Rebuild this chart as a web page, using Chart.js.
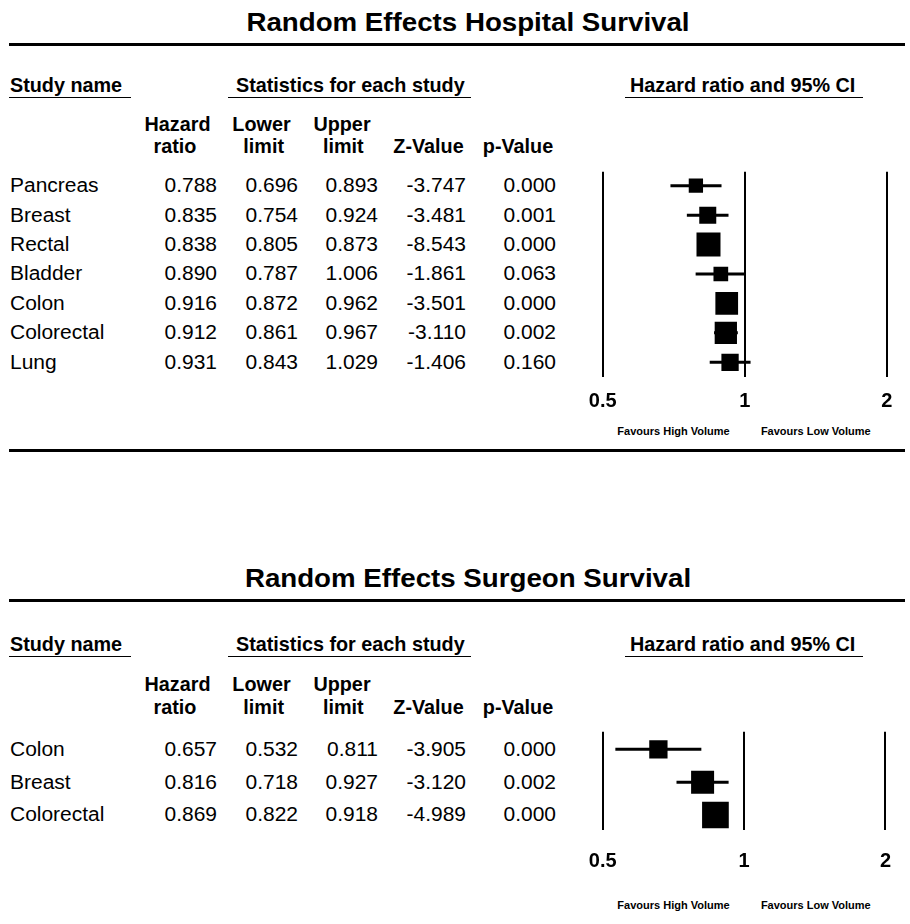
<!DOCTYPE html>
<html>
<head>
<meta charset="utf-8">
<script src="https://cdn.jsdelivr.net/npm/chart.js@4.4.1/dist/chart.umd.min.js"></script>
<style>
  html, body { margin: 0; padding: 0; background: #fff; }
  body { width: 910px; height: 924px; position: relative; overflow: hidden;
         font-family: "Liberation Sans", Arial, sans-serif; color: #000; }
  .t { position: absolute; white-space: nowrap; }
  .ln { position: absolute; background: #000; }
  .cw { position: absolute; }
</style>
</head>
<body>
<script>
// ---------------- data ----------------
const hospitalTitle = "Random Effects Hospital Survival";
const hospitalStudies = ["Pancreas", "Breast", "Rectal", "Bladder", "Colon", "Colorectal", "Lung"];
const hospitalHR    = [0.788, 0.835, 0.838, 0.890, 0.916, 0.912, 0.931];
const hospitalLower = [0.696, 0.754, 0.805, 0.787, 0.872, 0.861, 0.843];
const hospitalUpper = [0.893, 0.924, 0.873, 1.006, 0.962, 0.967, 1.029];
const hospitalZ     = ["-3.747", "-3.481", "-8.543", "-1.861", "-3.501", "-3.110", "-1.406"];
const hospitalP     = ["0.000", "0.001", "0.000", "0.063", "0.000", "0.002", "0.160"];

const surgeonTitle = "Random Effects Surgeon Survival";
const surgeonStudies = ["Colon", "Breast", "Colorectal"];
const surgeonHR    = [0.657, 0.816, 0.869];
const surgeonLower = [0.532, 0.718, 0.822];
const surgeonUpper = [0.811, 0.927, 0.918];
const surgeonZ     = ["-3.905", "-3.120", "-4.989"];
const surgeonP     = ["0.000", "0.002", "0.000"];

const tickValues = [0.5, 1, 2];
const sectionHeaders = ["Study name", "Statistics for each study", "Hazard ratio and 95% CI"];
const colHeadLine1 = ["Hazard", "Lower", "Upper"];
const colHeadLine2 = ["ratio", "limit", "limit", "Z-Value", "p-Value"];
const favourLabels = ["Favours High Volume", "Favours Low Volume"];

// ---------------- styles (box side in px, reflects relative study weight) ----------------
const hospitalBoxSide = [14.3, 17, 24, 14.7, 22.7, 22.3, 17.3];
const surgeonBoxSide  = [18.3, 23, 26.7];

const FONT = '"Liberation Sans", Arial, sans-serif';

function text(str, x, baseline, size, bold, align, sx) {
  const d = document.createElement('div');
  d.className = 't';
  d.textContent = str;
  d.style.fontSize = size + 'px';
  d.style.lineHeight = size + 'px';
  d.style.fontWeight = bold ? 'bold' : 'normal';
  d.style.top = (baseline - 0.8465 * size) + 'px';
  let origin = 'left';
  if (align === 'right') {
    d.style.left = (x - 400) + 'px'; d.style.width = '400px'; d.style.textAlign = 'right'; origin = 'right';
  } else if (align === 'center') {
    d.style.left = (x - 300) + 'px'; d.style.width = '600px'; d.style.textAlign = 'center'; origin = 'center';
  } else {
    d.style.left = x + 'px';
  }
  if (sx && sx !== 1) {
    d.style.transformOrigin = origin + ' center';
    d.style.transform = 'scaleX(' + sx + ')';
  }
  document.body.appendChild(d);
}
function hline(x1, x2, y, h) {
  const d = document.createElement('div');
  d.className = 'ln';
  d.style.left = x1 + 'px'; d.style.width = (x2 - x1) + 'px';
  d.style.top = y + 'px'; d.style.height = h + 'px';
  document.body.appendChild(d);
}

const REG = 19.6, REGX = 1.07;

function panel(p) {
  text(p.title, 468, p.titleBase, 26, true, 'center', 1.065);
  hline(9, 905, p.ruleTop, 3);
  text(sectionHeaders[0], 10, p.secBase, 19.8, true, 'left');
  text(sectionHeaders[1], 236, p.secBase, 19.8, true, 'left');
  text(sectionHeaders[2], 630, p.secBase, 19.8, true, 'left');
  hline(9.3, 131, p.secBase + 4.5, 1);
  hline(228, 470.7, p.secBase + 4.5, 1);
  hline(625, 863, p.secBase + 4.5, 1);
  const c1 = [177.5, 261.5, 342];
  colHeadLine1.forEach((s, i) => text(s, c1[i], p.head1, 19.8, true, 'center'));
  const c2 = [175, 263.7, 343.3, 428.5, 518];
  colHeadLine2.forEach((s, i) => text(s, c2[i], p.head2, 19.8, true, 'center'));
  const colsR = [217, 298, 378, 465.7, 556];
  p.studies.forEach((name, i) => {
    const b = p.row0 + p.rowStep * i + 7;
    text(name, 10, b, REG, false, 'left', REGX);
    text(p.hr[i].toFixed(3), colsR[0], b, REG, false, 'right', REGX);
    text(p.lo[i].toFixed(3), colsR[1], b, REG, false, 'right', REGX);
    text(p.hi[i].toFixed(3), colsR[2], b, REG, false, 'right', REGX);
    text(p.z[i], colsR[3], b, REG, false, 'right', REGX);
    text(p.p[i], colsR[4], b, REG, false, 'right', REGX);
  });
  text(favourLabels[0], 673.5, p.favBase, 11, true, 'center');
  text(favourLabels[1], 815.8, p.favBase, 11, true, 'center');

  // chart
  const wrap = document.createElement('div');
  wrap.className = 'cw';
  wrap.style.left = '560px';
  wrap.style.top = p.cTop + 'px';
  wrap.style.width = '350px';
  wrap.style.height = p.cHeight + 'px';
  const cv = document.createElement('canvas');
  wrap.appendChild(cv);
  document.body.appendChild(wrap);

  const datasets = [];
  p.studies.forEach((name, i) => {
    datasets.push({
      type: 'line',
      label: name + ' CI',
      data: [{x: p.lo[i], y: i}, {x: p.hi[i], y: i}],
      borderColor: '#000',
      borderWidth: 3,
      pointRadius: 0,
      fill: false,
      order: 2
    });
  });
  datasets.push({
    type: 'scatter',
    label: 'Hazard ratio',
    data: p.hr.map((v, i) => ({x: v, y: i})),
    pointStyle: 'rect',
    pointRadius: p.box.map(s => s / Math.SQRT2),
    pointBackgroundColor: '#000',
    pointBorderWidth: 0,
    order: 1
  });

  new Chart(cv, {
    type: 'scatter',
    data: { datasets },
    options: {
      responsive: true,
      maintainAspectRatio: false,
      animation: false,
      events: [],
      layout: { autoPadding: false, padding: { left: 42.7, right: 23.3, top: p.padTop, bottom: 0 } },
      plugins: { legend: { display: false }, tooltip: { enabled: false } },
      scales: {
        x: {
          type: 'logarithmic',
          min: 0.5, max: 2,
          bounds: 'data',
          afterBuildTicks: (scale) => { scale.ticks = tickValues.map(v => ({ value: v })); },
          ticks: {
            autoSkip: false,
            maxRotation: 0,
            padding: p.tickPad,
            color: '#000',
            font: { family: FONT, size: 20, weight: 'bold' },
            callback: (v) => String(v)
          },
          grid: { color: '#000', lineWidth: 2, drawTicks: false },
          border: { display: false }
        },
        y: {
          type: 'linear',
          display: false,
          reverse: true,
          min: p.yMin, max: p.yMax
        }
      }
    }
  });
}

// top panel: plot area 171.7..376.7, tick labels padding 12.7 (axis height = 24 + 2*pad)
panel({
  title: hospitalTitle, titleBase: 31.5, ruleTop: 43,
  secBase: 92.3, head1: 131.5, head2: 153.3,
  studies: hospitalStudies, hr: hospitalHR, lo: hospitalLower, hi: hospitalUpper,
  z: hospitalZ, p: hospitalP, box: hospitalBoxSide,
  row0: 185.7, rowStep: 29.43, favBase: 435,
  cTop: 160, cHeight: 376.7 + 24 + 2 * 12.7 - 160, padTop: 11.7, tickPad: 12.7,
  yMin: -0.4757, yMax: 6.490
});
hline(9, 905, 449.2, 3);

// bottom panel: plot area 731.7..830
panel({
  title: surgeonTitle, titleBase: 586.7, ruleTop: 599,
  secBase: 651.7, head1: 691.7, head2: 715,
  studies: surgeonStudies, hr: surgeonHR, lo: surgeonLower, hi: surgeonUpper,
  z: surgeonZ, p: surgeonP, box: surgeonBoxSide,
  row0: 749.3, rowStep: 32.85, favBase: 909.3,
  cTop: 720, cHeight: 830 + 24 + 2 * 19 - 720, padTop: 11.7, tickPad: 19,
  yMin: -0.536, yMax: 2.456
});
</script>
</body>
</html>
